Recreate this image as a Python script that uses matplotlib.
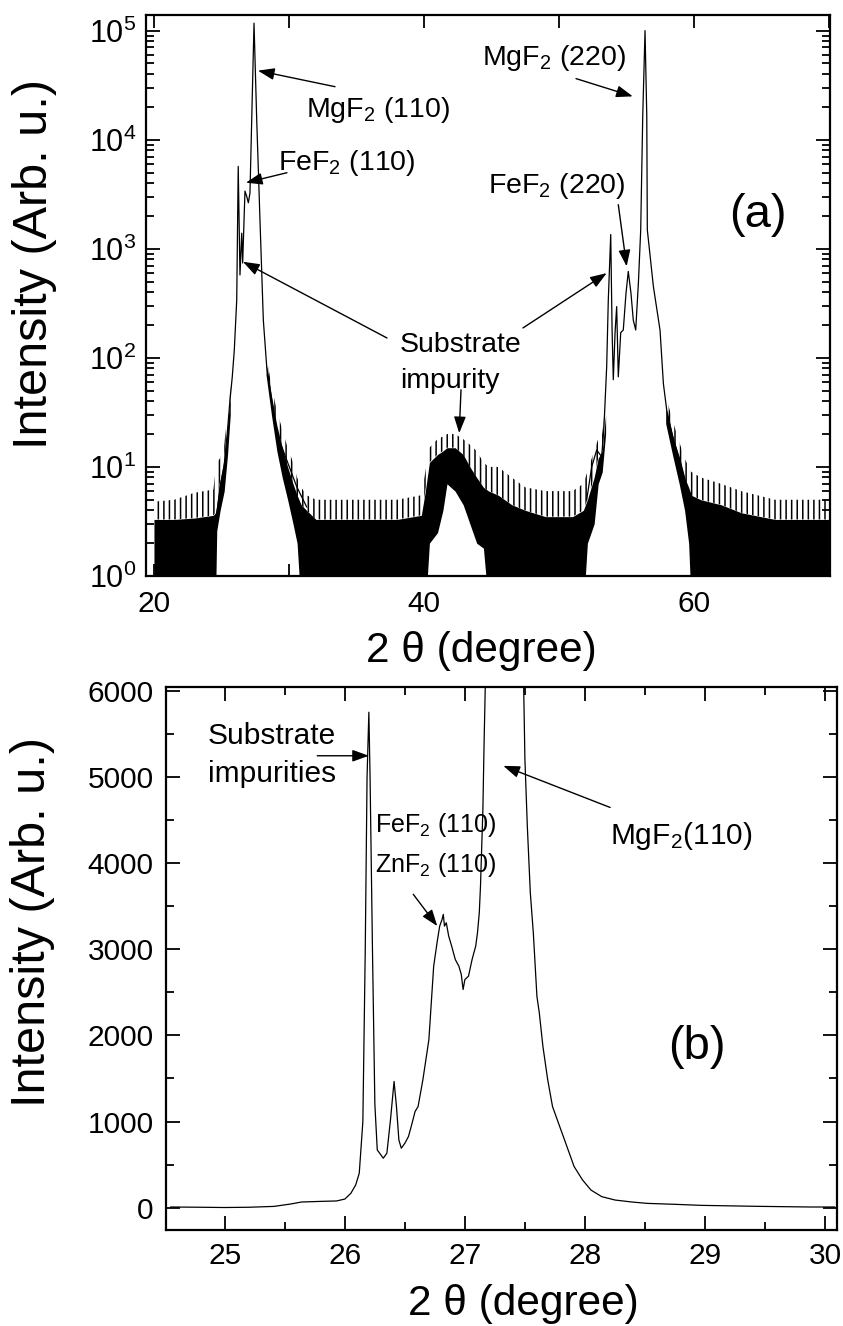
import numpy as np
import matplotlib
matplotlib.use("Agg")
import matplotlib.pyplot as plt
from matplotlib.ticker import FixedLocator, NullFormatter, LogLocator, MultipleLocator

plt.rcParams['font.family'] = ['Liberation Sans', 'DejaVu Sans']
plt.rcParams['mathtext.fontset'] = 'custom'
plt.rcParams['mathtext.rm'] = 'Liberation Sans'
plt.rcParams['mathtext.it'] = 'Liberation Sans:italic'
plt.rcParams['mathtext.bf'] = 'Liberation Sans:bold'
plt.rcParams['mathtext.default'] = 'regular'
plt.rcParams['hatch.linewidth'] = 1.1

# ---------------- Panel (a): wide scan, log intensity ----------------
# (110) region: substrate spike, FeF2 hump, MgF2 peak
peak1_x = [24.64, 24.89, 25.19, 25.43, 25.63, 25.80, 25.95, 26.13, 26.24, 26.37, 26.50,
           26.57, 26.74, 26.87, 26.99, 27.11, 27.41, 27.61, 27.85, 28.10, 28.35, 28.72,
           29.09, 29.83, 30.57, 31.31]
peak1_y = [3.5, 6.6, 10, 20.5, 41, 67, 118, 340, 5690, 575, 1390,
           740, 3380, 3020, 2640, 3240, 117000, 15200, 1860, 222, 83, 41,
           20.4, 11.6, 6.6, 4.3]
# (220) region: substrate spikes, FeF2 (220), MgF2 (220)
peak2_x = [52.05, 52.42, 52.79, 53.16, 53.33, 53.53, 53.65, 53.83, 53.93, 54.02, 54.15,
           54.27, 54.39, 54.57, 54.76, 54.96, 55.13, 55.33, 55.50, 55.68, 55.88, 56.05,
           56.20, 56.37, 56.50, 56.54, 56.99, 57.48, 57.73, 57.98, 58.47, 58.96, 59.46, 59.95]
peak2_y = [5, 10, 14.3, 12.4, 23.5, 83, 340, 1350, 180, 63, 170,
           295, 67, 170, 180, 390, 620, 390, 222, 180, 490, 1490,
           16400, 100000, 16400, 1490, 450, 180, 58, 33, 17.7, 11.6, 6.6, 5]

# counting-noise envelope (min / dense band top / sparse spike top)
noiseL_x    = [20.0, 21.5, 23.0, 24.4, 24.55, 24.65, 24.9, 25.2, 25.45, 25.65]
noiseL_lo   = [0.5, 0.5, 0.5, 0.5, 0.5, 2.6, 4, 6, 13, 30]
noiseL_core = [3.3, 3.3, 3.4, 3.6, 3.8, 4.5, 7.5, 12, 24, 45]
noiseL_hi   = [4.8, 5.0, 5.8, 6.2, 9, 11, 12, 16, 30, 55]

noiseM_x    = [28.3, 28.7, 29.1, 29.5, 29.9, 30.3, 30.6, 30.9, 31.3, 32.0, 38.0, 39.8,
               40.1, 40.4, 41.0, 41.4, 41.7, 42.3, 42.9, 43.4, 43.9, 44.4, 44.8, 45.5,
               46.5, 47.5, 49.0, 51.0, 51.8, 52.1, 52.6, 52.9, 53.2, 53.45]
noiseM_lo   = [70, 30, 14, 8, 5, 3, 2, 0.5, 0.5, 0.5, 0.5, 0.5,
               0.5, 2, 2.5, 4, 7, 6, 4.5, 3, 2, 1.8, 0.5, 0.5,
               0.5, 0.5, 0.5, 0.5, 0.5, 2, 3, 7, 9, 20]
noiseM_core = [90, 45, 24, 15, 10, 7, 5.5, 4.5, 4, 3.3, 3.3, 3.6,
               6, 11, 13, 14, 15, 15, 13, 10, 8, 6.5, 6, 5.5,
               4.5, 4, 3.5, 3.5, 4, 5, 8, 12, 14, 30]
noiseM_hi   = [110, 55, 33, 22, 15, 11, 8, 6.5, 5.5, 5, 5, 5.5,
               9, 15, 18, 19, 20, 20, 18, 16, 14, 11, 10, 10,
               8, 6.5, 6, 6, 7, 9, 14, 18, 20, 40]

noiseR_x    = [57.9, 58.4, 58.9, 59.3, 59.6, 59.8, 60.5, 62.0, 63.5, 66.0, 70.0]
noiseR_lo   = [25, 13, 7, 4, 2, 0.5, 0.5, 0.5, 0.5, 0.5, 0.5]
noiseR_core = [35, 20, 12, 8, 6.5, 5.5, 5, 4.5, 3.8, 3.3, 3.3]
noiseR_hi   = [45, 27, 17, 12, 10, 9, 8, 7, 6, 5, 5]

# ---------------- Panel (b): zoom on the (110) region, linear ----------------
b_x = [24.55, 24.8, 25.0, 25.2, 25.41, 25.55, 25.64, 25.82, 25.93, 26.0, 26.05, 26.09,
       26.12, 26.15, 26.17, 26.185, 26.20, 26.21, 26.23, 26.25, 26.27, 26.29, 26.32,
       26.35, 26.38, 26.41, 26.43, 26.45, 26.47, 26.50, 26.53, 26.56, 26.585, 26.61,
       26.65, 26.70, 26.74, 26.77, 26.79, 26.81, 26.82, 26.83, 26.845, 26.865, 26.89,
       26.92, 26.95, 26.97, 26.985, 27.0, 27.03, 27.06, 27.09, 27.105, 27.12, 27.13,
       27.15, 27.16, 27.17, 27.25, 27.35, 27.42, 27.49, 27.50, 27.52, 27.545, 27.57,
       27.60, 27.62, 27.65, 27.69, 27.73, 27.78, 27.82, 27.87, 27.91, 27.98, 28.05,
       28.14, 28.25, 28.39, 28.52, 28.75, 28.97, 29.42, 29.87, 30.08]
b_y = [8, 5, 2, 5, 15, 43, 66, 74, 78, 100, 167, 263,
       400, 1000, 3000, 5000, 5750, 5000, 3000, 1200, 670, 632, 574,
       632, 1019, 1465, 1174, 787, 690, 748, 826, 980, 1116, 1174,
       1484, 1950, 2803, 3094, 3268, 3346, 3404, 3268, 3307, 3152, 3035,
       2880, 2803, 2706, 2532, 2648, 2687, 2881, 3035, 3191, 3424, 3733,
       4625, 5400, 6060, 25000, 116000, 25000, 6020, 5207, 4431, 3656, 3191,
       2454, 2260, 1872, 1484, 1174, 980, 826, 632, 477, 322, 205,
       128, 89, 66, 50, 39, 27, 16, 8, 8]

W, H = 843, 1326
fig = plt.figure(figsize=(W / 100, H / 100), dpi=100)

def px_axes(l, t, r, b):
    return fig.add_axes([l / W, (H - b) / H, (r - l) / W, (b - t) / H])

axA = px_axes(146, 15, 830, 576)
axB = px_axes(166, 687, 837, 1230)

# ----- panel (a) drawing -----
for xs, lo, core, hi in [(noiseL_x, noiseL_lo, noiseL_core, noiseL_hi),
                         (noiseM_x, noiseM_lo, noiseM_core, noiseM_hi),
                         (noiseR_x, noiseR_lo, noiseR_core, noiseR_hi)]:
    axA.fill_between(xs, core, hi, facecolor='none', edgecolor='k', hatch='|||', lw=0)
    axA.fill_between(xs, lo, core, color='k', lw=0)
axA.plot(peak1_x, peak1_y, color='k', lw=0.9)
axA.plot(peak2_x, peak2_y, color='k', lw=0.9)

axA.set_yscale('log')
axA.set_xlim(19.41, 70.07)
axA.set_ylim(1, 1.39e5)
axA.xaxis.set_major_locator(FixedLocator([20, 40, 60]))
axA.xaxis.set_minor_locator(FixedLocator([30, 50, 70]))
axA.yaxis.set_major_locator(LogLocator(base=10))
axA.yaxis.set_minor_locator(LogLocator(base=10, subs=np.arange(2, 10)))
axA.yaxis.set_minor_formatter(NullFormatter())
axA.tick_params(which='both', direction='in', top=True, right=True, width=1.3, colors='k')
axA.tick_params(axis='y', which='major', length=10, labelsize=22, pad=7)
axA.tick_params(axis='y', which='minor', length=6)
axA.tick_params(axis='x', which='both', length=9, labelsize=21.5, pad=10)
for s in axA.spines.values():
    s.set_linewidth(1.6)

axA.set_xlabel('2 θ (degree)', fontsize=30.5)
axA.xaxis.set_label_coords(0.4898, -0.1533)
axA.xaxis.label.set_va('baseline')
axA.set_ylabel('Intensity (Arb. u.)', fontsize=35, rotation=90,
               rotation_mode='anchor', ha='center', va='baseline')
axA.yaxis.set_label_coords(-0.1452, 0.557)

arrow = dict(arrowstyle='-|>,head_length=0.5,head_width=0.18', color='k', lw=1.0,
             mutation_scale=20, shrinkA=0, shrinkB=0)
fs_a = 20.5
axA.text(31.26, 16260, r'MgF$_2$ (110)', fontsize=fs_a, ha='left', va='baseline')
axA.annotate('', xy=(27.70, 42950), xytext=(33.41, 30600), arrowprops=arrow)
axA.text(29.19, 5300, r'FeF$_2$ (110)', fontsize=fs_a, ha='left', va='baseline')
axA.annotate('', xy=(26.81, 4035), xytext=(29.85, 4980), arrowprops=arrow)
axA.text(38.22, 114, 'Substrate', fontsize=fs_a, ha='left', va='baseline')
axA.text(38.22, 53, 'impurity', fontsize=fs_a, ha='left', va='baseline')
axA.annotate('', xy=(26.59, 760), xytext=(37.26, 152), arrowprops=arrow)
axA.annotate('', xy=(53.53, 598), xytext=(47.33, 188), arrowprops=arrow)
axA.annotate('', xy=(42.61, 20.4), xytext=(42.74, 50.9), arrowprops=arrow)
axA.text(44.27, 48700, r'MgF$_2$ (220)', fontsize=fs_a, ha='left', va='baseline')
axA.annotate('', xy=(55.46, 24950), xytext=(51.26, 36300), arrowprops=arrow)
axA.text(44.74, 3265, r'FeF$_2$ (220)', fontsize=fs_a, ha='left', va='baseline')
axA.annotate('', xy=(55.01, 689), xytext=(54.39, 2535), arrowprops=arrow)
axA.text(64.74, 2050, '(a)', fontsize=34, ha='center', va='center')

# ----- panel (b) drawing -----
axB.plot(b_x, b_y, color='k', lw=0.9)
axB.set_xlim(24.51, 30.1)
axB.set_ylim(-259, 6043)
axB.xaxis.set_major_locator(MultipleLocator(1))
axB.xaxis.set_minor_locator(MultipleLocator(0.5))
axB.yaxis.set_major_locator(MultipleLocator(1000))
axB.yaxis.set_minor_locator(MultipleLocator(500))
axB.tick_params(which='both', direction='in', top=True, right=True, width=1.3, colors='k')
axB.tick_params(which='major', length=10)
axB.tick_params(which='minor', length=6)
axB.tick_params(axis='y', labelsize=21.5, pad=9)
axB.tick_params(axis='x', labelsize=21.5, pad=9)
for s in axB.spines.values():
    s.set_linewidth(1.6)

axB.set_xlabel('2 θ (degree)', fontsize=30.5)
axB.xaxis.set_label_coords(0.5325, -0.1565)
axB.xaxis.label.set_va('baseline')
axB.set_ylabel('Intensity (Arb. u.)', fontsize=35, rotation=90,
               rotation_mode='anchor', ha='center', va='baseline')
axB.yaxis.set_label_coords(-0.1803, 0.568)

axB.text(24.86, 5378, 'Substrate', fontsize=21.5, ha='left', va='baseline')
axB.text(24.86, 4935, 'impurities', fontsize=21.5, ha='left', va='baseline')
axB.annotate('', xy=(26.20, 5245), xytext=(25.77, 5245), arrowprops=arrow)
axB.text(26.25, 4357, r'FeF$_2$ (110)', fontsize=18, ha='left', va='baseline')
axB.text(26.25, 3892, r'ZnF$_2$ (110)', fontsize=18, ha='left', va='baseline')
axB.annotate('', xy=(26.77, 3268), xytext=(26.57, 3637), arrowprops=arrow)
axB.text(28.21, 4219, r'MgF$_2$(110)', fontsize=21.5, ha='left', va='baseline')
axB.annotate('', xy=(27.32, 5128), xytext=(28.21, 4645), arrowprops=arrow)
axB.text(28.93, 1869, '(b)', fontsize=34, ha='center', va='center')

fig.savefig('out.png', dpi=100)
